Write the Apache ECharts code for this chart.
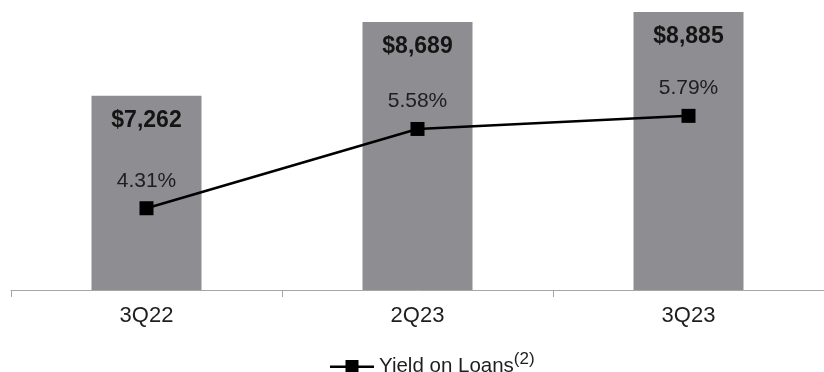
<!DOCTYPE html>
<html>
<head>
<meta charset="utf-8">
<script src="https://cdn.jsdelivr.net/npm/echarts@6/dist/echarts.min.js"></script>
<style>
  html, body { margin: 0; padding: 0; background: #fff; }
  #chart { width: 824px; height: 372px; }
</style>
</head>
<body>
<div id="chart"></div>
<script>
// Quarter categories
const quarters = ['3Q22', '2Q23', '3Q23'];
// Loans, $ millions
const loanBalances = [7262, 8689, 8885];
// Yield on loans, %
const loanYields = [4.31, 5.58, 5.79];

const FONT = '"Liberation Sans", Arial, sans-serif';
const chart = echarts.init(document.getElementById('chart'));

chart.setOption({
  animation: false,
  textStyle: { fontFamily: FONT },
  grid: { left: 11, width: 816, top: 6, bottom: 82 },
  xAxis: {
    type: 'category',
    data: quarters,
    boundaryGap: true,
    axisLine: { lineStyle: { color: '#a6a6a6', width: 1 } },
    axisTick: { show: true, length: 7, lineStyle: { color: '#a6a6a6' } },
    axisLabel: { color: '#1e1e1e', fontSize: 22, margin: 15, fontFamily: FONT }
  },
  yAxis: [
    { type: 'value', min: 3500, max: 9000, show: false, splitLine: { show: false } },
    { type: 'value', min: 3, max: 7.55, show: false, splitLine: { show: false } }
  ],
  legend: {
    top: 346,
    left: 325,
    itemWidth: 44,
    itemHeight: 14,
    data: [{
      name: 'Yield on Loans',
      icon: 'path://M0,6H44V8.4H0Z M15.5,0.5H28.5V13.5H15.5Z',
      itemStyle: { color: '#000' }
    }],
    formatter: (name) => name + '{sup|(2)}',
    textStyle: {
      color: '#1e1e1e',
      fontSize: 20.5,
      fontFamily: FONT,
      rich: {
        sup: { fontSize: 17, verticalAlign: 'top', padding: [0, 0, 14, 0], color: '#1e1e1e', fontFamily: FONT }
      }
    }
  },
  series: [
    {
      name: 'Loans',
      type: 'bar',
      yAxisIndex: 0,
      data: loanBalances,
      barWidth: 110,
      itemStyle: { color: '#8e8e92' },
      label: {
        show: true,
        position: 'insideTop',
        distance: 13,
        color: '#141414',
        fontSize: 23,
        fontWeight: 'bold',
        fontFamily: FONT,
        formatter: (p) => '$' + p.value.toLocaleString('en-US')
      },
      z: 1
    },
    {
      name: 'Yield on Loans',
      type: 'line',
      yAxisIndex: 1,
      data: loanYields,
      symbol: 'rect',
      symbolSize: 14,
      showAllSymbol: true,
      lineStyle: { color: '#000', width: 2.5 },
      itemStyle: { color: '#000' },
      label: {
        show: true,
        position: 'top',
        distance: 10,
        color: '#1e1e1e',
        fontSize: 21,
        fontFamily: FONT,
        formatter: (p) => p.value.toFixed(2) + '%'
      },
      z: 3
    }
  ]
});
</script>
</body>
</html>
